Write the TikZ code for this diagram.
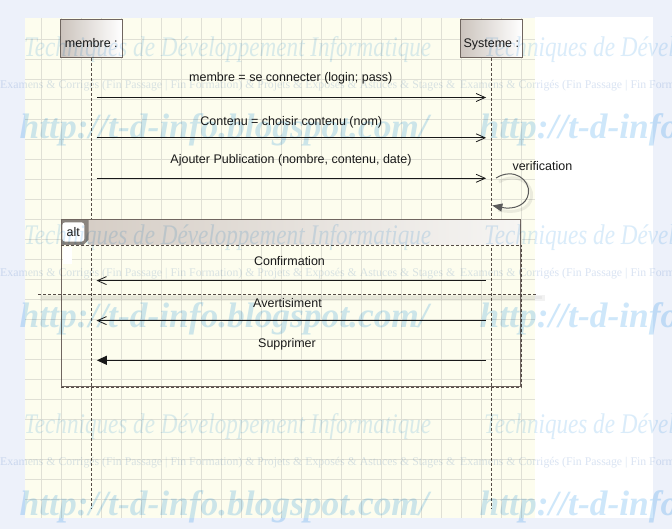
\documentclass[tikz,border=0pt]{standalone}
\usepackage{fontspec}
\setmainfont{Liberation Sans}
\newfontfamily\wmserif{Liberation Serif}
\usetikzlibrary{arrows.meta}
\definecolor{bgblue}{RGB}{237,241,250}
\definecolor{canvasc}{RGB}{253,253,238}
\definecolor{gridc}{RGB}{224,224,213}
\definecolor{framec}{RGB}{112,102,96}
\definecolor{framedark}{RGB}{85,76,70}
\definecolor{boxl}{RGB}{204,196,189}
\definecolor{tabc}{RGB}{138,132,126}
\definecolor{bandl}{RGB}{214,206,198}
\definecolor{bandr}{RGB}{246,245,243}
\definecolor{wmc}{RGB}{218,236,250}
\definecolor{wmh}{RGB}{206,231,250}
\definecolor{wmb}{RGB}{218,228,243}
\definecolor{ink}{RGB}{25,25,25}
\definecolor{loopc}{RGB}{90,90,90}
\newcommand{\msgfont}{\fontsize{12.5}{15}\selectfont}
\tikzset{
  lbl/.style={font=\msgfont, text=ink, inner sep=0pt},
  lifebox/.style={draw=framec, line width=0.8pt, left color=boxl, right color=white,
    minimum width=61.5pt, minimum height=38pt, inner sep=0pt,
    font=\msgfont, text=ink, text height=21.5pt, text depth=2.5pt},
  lifeline/.style={draw=framedark, line width=0.7pt, dash pattern=on 3pt off 2pt},
  msg/.style={draw=ink, line width=1pt, shorten >=5.2pt, shorten <=5.5pt,
    -{Straight Barb[length=9pt,width=8pt,line width=0.8pt]}},
  msgfilled/.style={draw=ink, line width=1pt, shorten >=5.5pt, shorten <=5.5pt,
    -{Triangle[length=10pt,width=9pt]}},
  selfmsg/.style={draw=loopc, line width=1pt, -{Triangle[length=10pt,width=8pt]}},
  gridline/.style={draw=gridc, line width=0.7pt},
  wmA/.style={inner sep=0pt, anchor=base west, text=wmc, font=\wmserif\itshape},
  wmB/.style={inner sep=0pt, anchor=base west, text=wmb, font=\wmserif},
  wmC/.style={inner sep=0pt, anchor=base west, text=wmh, font=\wmserif\bfseries\itshape},
}
\begin{document}
\begin{tikzpicture}[x=1pt,y=-1pt]
\useasboundingbox (0,0) rectangle (672,529);
% background
\fill[bgblue] (0,0) rectangle (672,529);
\fill[white] (535,16.7) rectangle (653,517.7);
\fill[canvasc] (25,18.3) rectangle (535,517.7);
% grid
\foreach \gx in {41,61,...,521} \draw[gridline] (\gx,18.3) -- (\gx,517.7);
\foreach \gy in {39.4,59.4,...,499.4} \draw[gridline] (25,\gy) -- (535,\gy);

% lifelines
\node[lifebox] (membre) at (91.3,38.5) {membre :};
\node[lifebox] (systeme) at (491.3,38.3) {Systeme :};
\coordinate (mend) at (91.3,508);
\coordinate (send) at (491.3,508);
\draw[lifeline] (membre.south) -- (mend);
\draw[lifeline] (systeme.south) -- (send);

% message anchors
\coordinate (m1) at (91.3,97.5);   \coordinate (s1) at (491.3,97.5);
\coordinate (m2) at (91.3,137.8);  \coordinate (s2) at (491.3,137.8);
\coordinate (m3) at (91.3,178.3);  \coordinate (s3) at (491.3,178.3);
\coordinate (m4) at (91.3,280.6);  \coordinate (s4) at (491.3,280.6);
\coordinate (m5) at (91.3,320.6);  \coordinate (s5) at (491.3,320.6);
\coordinate (m6) at (91.3,360.3);  \coordinate (s6) at (491.3,360.3);

\draw[msg] (m1) -- (s1);
\node[lbl, anchor=base] (t1) at (290.8,82) {membre = se connecter (login; pass)};
\draw[msg] (m2) -- (s2);
\node[lbl, anchor=base] (t2) at (291.3,125.5) {Contenu = choisir contenu (nom)};
\draw[msg] (m3) -- (s3);
\node[lbl, anchor=base] (t3) at (291,163.3) {Ajouter Publication (nombre, contenu, date)};

% self message
\coordinate (vstart) at (496,178);
\coordinate (vend) at (492.3,205.5);
\draw[black, opacity=0.07, line width=3pt] (499,182) .. controls (517,171) and (533,184) .. (531.5,197) .. controls (530,209) and (517,214) .. (498,210);
\draw[selfmsg] (vstart) .. controls (514,167) and (530,180) .. (528.5,193) .. controls (527,205) and (514,210) .. (vend);
\node[lbl, anchor=base west] (tv) at (512.3,170.7) {verification};

% alt frame
\fill[left color=bandl, right color=bandr] (88.5,219.3) rectangle (520,245);
\fill[tabc] (61,219.3) -- (88.5,219.3) -- (88.5,240) -- (83.5,245) -- (61,245) -- cycle;
\node[fill=white, rounded corners=3pt, minimum width=22pt, minimum height=19.4pt, inner sep=0pt, font=\msgfont, text=ink] (altlab) at (73.3,232) {alt};
\fill[white] (62.5,246.7) rectangle (71.7,264);
\node[draw=framec, line width=1pt, minimum width=459pt, minimum height=166.7pt, inner sep=0pt, anchor=north west] (alt) at (61,219.3) {};
\draw[framedark, line width=0.8pt, dash pattern=on 3pt off 2pt] (alt.west |- 0,245) -- (alt.east |- 0,245);
\draw[framedark, line width=0.8pt, dash pattern=on 3pt off 2pt] (alt.south west) -- (alt.south east) -- (alt.east |- 0,245);

\draw[msg] (s4) -- (m4);
\node[lbl, anchor=base] (t4) at (289.5,266) {Confirmation};

% separator
\coordinate (sepl) at (38,294.3);
\coordinate (sepr) at (537.5,294.3);
\fill[black, opacity=0.05] (40,295.5) rectangle (545,301);
\fill[black, opacity=0.04] (42,296.5) rectangle (542,299.5);
\draw[framedark, line width=0.8pt, dash pattern=on 3pt off 2pt] (sepl) -- (sepr);

\draw[msg] (s5) -- (m5);
\node[lbl, anchor=base] (t5) at (287.5,307.3) {Avertisiment};
\draw[msgfilled] (s6) -- (m6);
\node[lbl, anchor=base] (t6) at (287,347.3) {Supprimer};

% watermark (multiplied over the drawing)
\begin{scope}[blend mode=multiply]
\clip (0,0) rectangle (672,529);
\foreach \ty [count=\k] in {0,188,376} {
  \foreach \tx [count=\j] in {0,460} {
    \node[wmA] (wa\k\j) at (24+\tx,57+\ty) {\resizebox{407pt}{20pt}{Techniques de Développement Informatique}};
    \node[wmB] (wb\k\j) at (\tx,89+\ty) {\resizebox{455pt}{!}{Examens \& Corrigés (Fin Passage | Fin Formation) \& Projets \& Exposés \& Astuces \& Stages \&}};
    \node[wmC] (wc\k\j) at (19.5+\tx,139+\ty) {\resizebox{409pt}{!}{http://t-d-info.blogspot.com/}};
  }
}
\end{scope}
\end{tikzpicture}
\end{document}
